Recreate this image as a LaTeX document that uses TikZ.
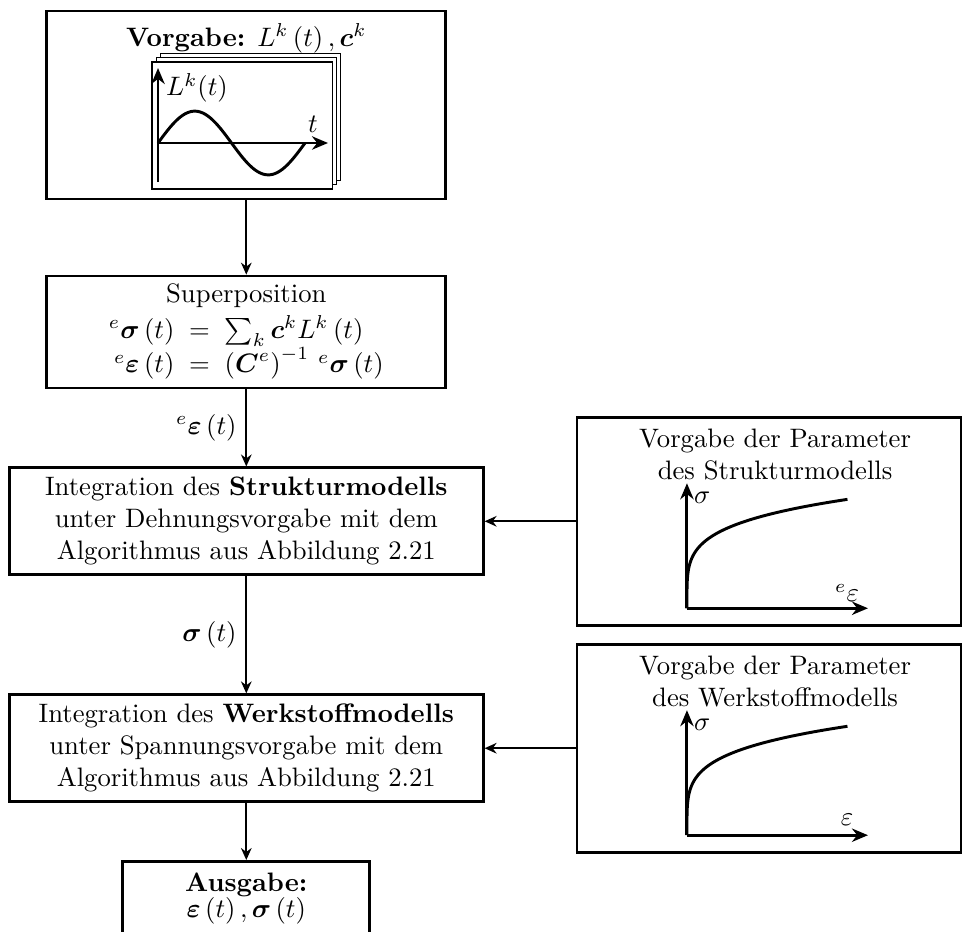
\documentclass[tikz,border=0pt]{standalone}
\usepackage{amsmath}
\usetikzlibrary{arrows.meta,positioning}

\begin{document}
\begin{tikzpicture}[>={Stealth[length=4.5pt,width=4pt]},
  block/.style={draw,line width=1pt,align=center,inner sep=2pt},
  conn/.style={->,semithick},
  axis/.style={-{Stealth[length=6pt,width=5pt]},line width=1.1pt}]
\useasboundingbox (0,0) rectangle (12.688,-12.279);
\node[block,minimum width=5.257cm,minimum height=2.477cm] (vorg) at (3.245,-1.383){};
\node[below=1.7pt of vorg.north] (vtitle){\textbf{Vorgabe:} $L^k\left(t\right),\boldsymbol{c}^k$};
\foreach \s in {0.11,0.055,0}
  \draw[fill=white] (2.003+\s,-2.490+\s) rectangle (4.375+\s,-0.817+\s);
\begin{scope}[shift={(2.082,-1.884)}]
\draw[axis] (0,-0.514)--(0,0.988);
\draw[axis] (0,0)--(2.24,0);
\draw[line width=1.1pt,domain=0:1.937,samples=60] plot(\x,{0.42*sin(\x*185.86)});
\node (lk) at (0.514,0.725){$L^k(t)$};
\node (tt) at (2.04,0.24){$t$};
\end{scope}
\node[block,minimum width=5.257cm,minimum height=1.476cm] (sup) at (3.245,-4.374){\renewcommand{\arraystretch}{0.92}%
  \begin{tabular}{@{}r@{\;\;$=$\;\;}l@{}}\multicolumn{2}{@{}c@{}}{Superposition}\\[1.5pt]
  ${}^e\boldsymbol{\sigma}\left(t\right)$&$\sum_k\boldsymbol{c}^kL^k\left(t\right)$\\
  ${}^e\boldsymbol{\varepsilon}\left(t\right)$&$\left(\boldsymbol{C}^e\right)^{-1}\,{}^e\boldsymbol{\sigma}\left(t\right)$\end{tabular}};
\node[block,minimum width=6.245cm,minimum height=1.41cm] (struk) at (3.245,-6.868){Integration des \textbf{Strukturmodells}\\unter Dehnungsvorgabe mit dem\\Algorithmus aus Abbildung 2.21};
\node[block,minimum width=6.245cm,minimum height=1.41cm] (werk) at (3.245,-9.858){Integration des \textbf{Werkstoffmodells}\\unter Spannungsvorgabe mit dem\\Algorithmus aus Abbildung 2.21};
\node[block,minimum width=3.254cm,minimum height=0.98cm,anchor=north] (aus) at (3.245,-11.331){\textbf{Ausgabe:}\\[-2pt]$\boldsymbol{\varepsilon}\left(t\right),\boldsymbol{\sigma}\left(t\right)$};
\node[block,minimum width=5.06cm,minimum height=2.74cm] (par1) at (10.132,-6.868){};
\node[below=1.5pt of par1.north,xshift=0.08cm,align=center] (ptitle1){Vorgabe der Parameter\\des Strukturmodells};
\node[block,minimum width=5.06cm,minimum height=2.74cm] (par2) at (10.132,-9.858){};
\node[below=1.5pt of par2.north,xshift=0.08cm,align=center] (ptitle2){Vorgabe der Parameter\\des Werkstoffmodells};
\foreach \y/\lab in {-8.014/{{}^e\varepsilon},-11.004/\varepsilon}{
  \begin{scope}[shift={(9.051,\y)}]
  \draw[axis] (0,0)--(0,1.647);
  \draw[axis] (0,0)--(2.385,0);
  \draw[line width=1.1pt,domain=0:1,samples=80] plot({2.121*\x*\x*\x*\x*sqrt(\x)},{1.436*\x});
  \node at (0.2,1.46){$\sigma$};
  \node at (2.11,0.2){$\lab$};
  \end{scope}}
\draw[conn] (vorg)--(sup);
\draw[conn] (sup)--(struk) node[midway,left]{$^e\boldsymbol{\varepsilon}\left(t\right)$};
\draw[conn] (struk)--(werk) node[midway,left]{$\boldsymbol{\sigma}\left(t\right)$};
\draw[conn] (werk)--(aus);
\draw[conn] (par1)--(struk);
\draw[conn] (par2)--(werk);
\end{tikzpicture}
\end{document}
